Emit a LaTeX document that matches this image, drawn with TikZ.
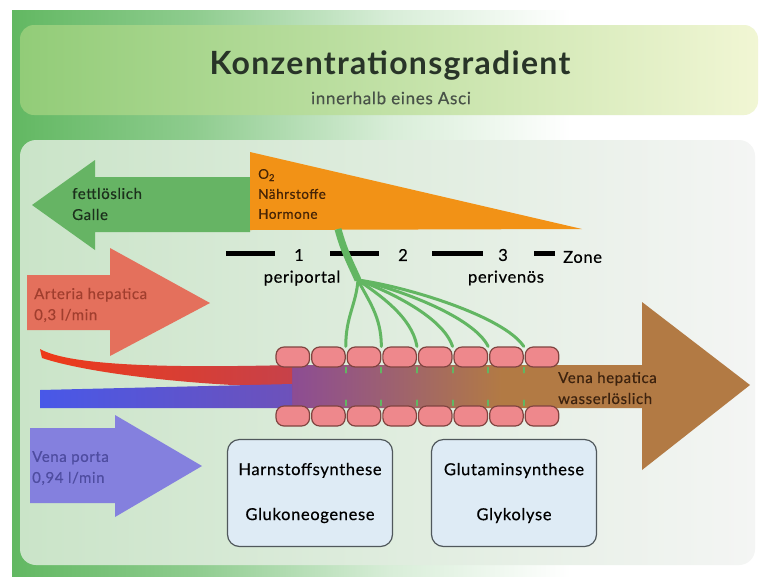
\documentclass[tikz,border=0pt]{standalone}
\usepackage{fontspec}
\setmainfont{Lato}
\definecolor{outergreen}{RGB}{98,184,98}
\definecolor{titleleft}{RGB}{146,204,120}
\definecolor{titleright}{RGB}{241,246,212}
\definecolor{titletext}{RGB}{40,52,40}
\definecolor{panelleft}{RGB}{202,228,200}
\definecolor{panelright}{RGB}{244,245,244}
\definecolor{gallegreen}{RGB}{102,180,100}
\definecolor{galletext}{RGB}{28,48,28}
\definecolor{stoffeorange}{RGB}{242,146,22}
\definecolor{stoffetext}{RGB}{70,36,6}
\definecolor{arteriared}{RGB}{228,112,92}
\definecolor{arteriatext}{RGB}{160,62,46}
\definecolor{portablue}{RGB}{132,128,222}
\definecolor{portatext}{RGB}{78,76,160}
\definecolor{hepbrown}{RGB}{178,122,68}
\definecolor{heptext}{RGB}{60,34,14}
\definecolor{bloodred}{RGB}{238,58,24}
\definecolor{bloodblue}{RGB}{72,88,232}
\definecolor{mixpurple}{RGB}{140,76,148}
\definecolor{cellpink}{RGB}{238,136,140}
\definecolor{celledge}{RGB}{128,68,64}
\definecolor{fibergreen}{RGB}{98,182,98}
\definecolor{boxblue}{RGB}{222,235,245}
\definecolor{boxedge}{RGB}{80,88,92}
\pgfdeclarehorizontalshading{outerfade}{100bp}{color(0bp)=(outergreen); color(25bp)=(outergreen); color(37bp)=(outergreen!72!white); color(50bp)=(outergreen!25!white); color(62bp)=(white); color(100bp)=(white)}
\pgfdeclarehorizontalshading{venafade}{100bp}{color(0bp)=(mixpurple); color(25bp)=(mixpurple); color(36bp)=(mixpurple!55!hepbrown); color(48bp)=(hepbrown); color(100bp)=(hepbrown)}
\newcommand\widetext{\addfontfeatures{LetterSpace=4,FakeBold=0.4}}
\tikzset{
  lbl/.style={anchor=west, align=left, inner sep=0pt, font=\fontsize{15}{21}\selectfont\widetext},
  zonebar/.style={line width=5pt},
  zonelbl/.style={inner sep=0pt, font=\fontsize{16.5}{19}\selectfont\widetext},
  cell/.style={draw=celledge, fill=cellpink, line width=1.2pt, rounded corners=8pt,
    minimum width=33.5pt, minimum height=20pt, inner sep=0pt},
  fiber/.style={draw=fibergreen, line width=3pt, line cap=round},
  procbox/.style={draw=boxedge, fill=boxblue, line width=1.2pt, rounded corners=12pt,
    minimum width=165pt, minimum height=107pt, align=center, font=\fontsize{16.5}{19}\selectfont\widetext}
}
\begin{document}
\begin{tikzpicture}[x=1pt, y=-1pt]
\useasboundingbox (0,0) rectangle (767,576);
% background
\fill[white] (0,0) rectangle (767,576);
\shade[shading=outerfade] (12,10) rectangle (767,576);
\shade[left color=titleleft, right color=titleright, rounded corners=14pt] (20,25) rectangle (758,115);
\shade[left color=panelleft, right color=panelright, rounded corners=16pt] (20,140) rectangle (755,565);
% title
\node[font=\fontsize{32}{38}\bfseries\selectfont\addfontfeatures{LetterSpace=4}, text=titletext] (title) at (390,65) {Konzentrationsgradient};
\node[font=\fontsize{17}{20}\selectfont\widetext, text=titletext!85!white] (subtitle) at (391,98) {innerhalb eines Asci};
% galle
\fill[gallegreen] (250,177) -- (95,177) -- (95,160) -- (32,205) -- (95,250) -- (95,232) -- (250,232) -- cycle;
\node[lbl, text=galletext] (galle) at (72,204) {fettlöslich\\Galle};
% o2 gradient
\fill[stoffeorange] (250,152) -- (582,229) -- (250,230) -- cycle;
\node[lbl, font=\fontsize{13.5}{20}\selectfont\widetext, text=stoffetext] (stoffe) at (258,194) {O\textsubscript{2}\\Nährstoffe\\Hormone};
% arteria hepatica
\fill[arteriared] (27,275) -- (110,275) -- (110,248) -- (210,303) -- (110,356) -- (110,330) -- (27,330) -- cycle;
\node[lbl, text=arteriatext] (arteria) at (34,305) {Arteria hepatica\\0,3 l/min};
% vena porta
\fill[portablue] (30,428) -- (115,428) -- (115,415) -- (202,466) -- (115,517) -- (115,503) -- (30,503) -- cycle;
\node[lbl, text=portatext] (porta) at (32,468) {Vena porta\\0,94 l/min};
% vena hepatica
\scope
\shade[shading=venafade] (290,365) -- (642,365) -- (642,302) -- (750,385) -- (642,470) -- (642,408) -- (290,408) -- cycle;
\shade[left color=bloodred, right color=bloodred!60!mixpurple]
  (40,349) .. controls (70,366) and (170,368) .. (292,365) -- (292,387)
  .. controls (200,386) and (90,374) .. (42,358) -- cycle;
\shade[left color=bloodblue, right color=bloodblue!45!mixpurple] (40,390) -- (292,384) -- (292,408) -- (40,408) -- cycle;
\endscope
\node[lbl, text=heptext] (hepatica) at (558,388) {Vena hepatica\\wasserlöslich};
% zones
\draw[zonebar] (226,253) -- (275,253) (330,253) -- (379,253) (432,253) -- (483,253) (534,253) -- (555,253);
\node[zonelbl] (z1) at (299,255) {1};
\node[zonelbl] (z2) at (403,255) {2};
\node[zonelbl] (z3) at (503,255) {3};
\node[zonelbl, anchor=west] (zone) at (563,257) {Zone};
\node[zonelbl] (periportal) at (302,278) {periportal};
\node[zonelbl] (perivenoes) at (506,278) {perivenös};
% cells
\foreach \i in {1,...,8} {
  \node[cell] (c\i) at ({275+35.6*(\i-0.5)},357) {};
  \node[cell] (d\i) at ({275+35.6*(\i-0.5)},416) {};
}
% fibers
\coordinate (fa) at (338,229);
\coordinate (fb) at (358,280);
\draw[fiber, line width=7pt, line cap=butt] (fa) .. controls (344,252) and (352,266) .. (fb);
\foreach \j/\ax/\ay/\bx in {2/-2/25/0, 3/10/20/0, 4/20/14/-5, 5/30/11/-10, 6/40/9/-15, 7/50/7/-20}
  \draw[fiber] (fb) .. controls +(\ax,\ay) and +(\bx,-30) .. (c\j.north east);
\foreach \j in {2,...,7} {
  \draw[fiber, line width=2pt] (c\j.south east) -- +(0,5);
  \draw[fiber, line width=2pt] (d\j.north east) -- +(0,-5);
}
% processes
\node[procbox] (harn) at (310,493) {Harnstoffsynthese\\[26pt]Glukoneogenese};
\node[procbox] (glut) at (514,493) {Glutaminsynthese\\[26pt]Glykolyse};
\end{tikzpicture}
\end{document}
